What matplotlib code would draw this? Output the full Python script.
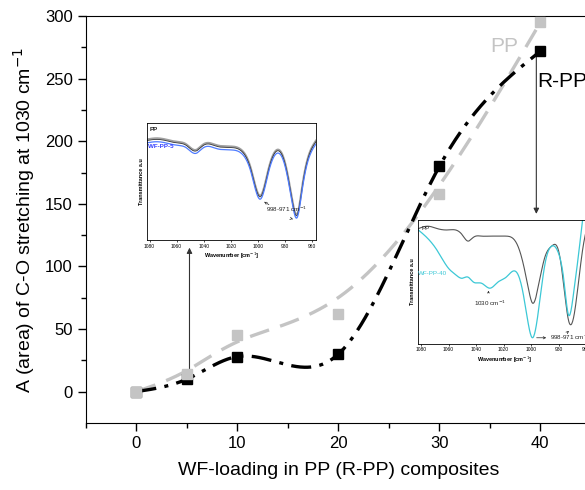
import numpy as np
import matplotlib
matplotlib.use("Agg")
import matplotlib.pyplot as plt

plt.rcParams['font.family'] = ['Liberation Sans', 'DejaVu Sans']

# main chart data
loading = [0, 5, 10, 20, 30, 40]
area_pp = [0, 14, 45, 62, 158, 295]
area_rpp = [0, 10, 28, 30, 180, 272]

# inset 1: FTIR of PP and WF-PP-5 (normalised transmittance)
wn1 = [1082, 1075, 1068, 1060, 1053, 1046, 1040, 1030, 1020, 1012, 1005,
       998, 992, 987, 980, 975, 971, 967, 963, 957]
t1_pp = [0.85, 0.86, 0.85, 0.83, 0.81, 0.76, 0.81, 0.80, 0.79, 0.76, 0.60,
         0.37, 0.60, 0.75, 0.66, 0.37, 0.21, 0.46, 0.69, 0.84]
t1_wf = [0.83, 0.84, 0.83, 0.81, 0.79, 0.74, 0.79, 0.78, 0.77, 0.74, 0.58,
         0.35, 0.58, 0.73, 0.64, 0.35, 0.19, 0.44, 0.67, 0.82]

# inset 2: FTIR of PP and WF-PP-40
wn2 = [1082, 1075, 1068, 1060, 1055, 1050, 1046, 1042, 1036, 1030, 1024,
       1018, 1010, 1006, 1002, 999, 995, 990, 985, 980, 976, 973, 969,
       965, 962, 958]
t2_pp = [0.93, 0.95, 0.93, 0.92, 0.92, 0.88, 0.83, 0.86, 0.87, 0.87, 0.87,
         0.87, 0.80, 0.66, 0.45, 0.33, 0.45, 0.70, 0.79, 0.75, 0.45, 0.20,
         0.22, 0.55, 0.80, 0.99]
t2_wf = [0.92, 0.85, 0.75, 0.61, 0.56, 0.53, 0.54, 0.50, 0.49, 0.45, 0.50,
         0.54, 0.57, 0.42, 0.16, 0.05, 0.24, 0.64, 0.79, 0.73, 0.50, 0.24,
         0.42, 0.77, 1.05, 1.3]


def spline(x, y, n=400):
    """Natural cubic spline through the points (for the smooth lines)."""
    x = np.asarray(x, float)
    y = np.asarray(y, float)
    if x[0] > x[-1]:
        x, y = x[::-1], y[::-1]
    h = np.diff(x)
    m = len(x)
    A = np.zeros((m, m))
    b = np.zeros(m)
    A[0, 0] = A[-1, -1] = 1
    for i in range(1, m - 1):
        A[i, i - 1] = h[i - 1]
        A[i, i] = 2 * (h[i - 1] + h[i])
        A[i, i + 1] = h[i]
        b[i] = 3 * ((y[i + 1] - y[i]) / h[i] - (y[i] - y[i - 1]) / h[i - 1])
    c = np.linalg.solve(A, b)
    bc = (y[1:] - y[:-1]) / h - h * (2 * c[:-1] + c[1:]) / 3
    d = (c[1:] - c[:-1]) / (3 * h)
    xs = np.linspace(x[0], x[-1], n)
    idx = np.clip(np.searchsorted(x, xs) - 1, 0, m - 2)
    dx = xs - x[idx]
    ys = y[idx] + bc[idx] * dx + c[idx] * dx ** 2 + d[idx] * dx ** 3
    return xs, ys


def bspline(x, y, n=60):
    """Cubic B-spline using the points as control points (clamped ends)."""
    P = np.column_stack([x, y]).astype(float)
    P = np.vstack([P[0], P[0], P, P[-1], P[-1]])
    t = np.linspace(0, 1, n)[:, None]
    b0 = (1 - t) ** 3 / 6
    b1 = (3 * t ** 3 - 6 * t ** 2 + 4) / 6
    b2 = (-3 * t ** 3 + 3 * t ** 2 + 3 * t + 1) / 6
    b3 = t ** 3 / 6
    segs = [b0 * P[i] + b1 * P[i + 1] + b2 * P[i + 2] + b3 * P[i + 3]
            for i in range(len(P) - 3)]
    pts = np.vstack(segs)
    return pts[:, 0], pts[:, 1]


fig = plt.figure(figsize=(5.85, 4.9), dpi=100)
ax = fig.add_axes([0.147, 0.137, 0.863, 0.830])

gray = '#c4c4c4'
xs, ys = bspline(loading, area_pp)
ax.plot(xs, ys, color=gray, lw=2.4, dashes=(6, 3.5), zorder=2)
xs, ys = spline(loading, area_rpp)
ax.plot(xs, ys, color='black', lw=2.4, dashes=(6, 2.5, 1.2, 2.5), zorder=3)
ax.plot(loading, area_rpp, 's', color='black', ms=6.5, zorder=4)
ax.plot(loading, area_pp, 's', color=gray, ms=6.5, zorder=5)

ax.set_xlim(-5, 45)
ax.set_ylim(-25, 300)
ax.set_xticks([0, 10, 20, 30, 40])
ax.set_xticks([-5, 5, 15, 25, 35, 45], minor=True)
ax.set_yticks([0, 50, 100, 150, 200, 250, 300])
ax.set_yticks([25, 75, 125, 175, 225, 275], minor=True)
ax.tick_params(which='major', direction='out', length=6, width=1, labelsize=12)
ax.tick_params(which='minor', direction='out', length=3.5, width=1)
ax.set_xlabel('WF-loading in PP (R-PP) composites', fontsize=14, labelpad=8)
ax.set_ylabel('A (area) of C-O stretching at 1030 cm$^{-1}$', fontsize=14,
              labelpad=6)

ax.text(36.4, 276, 'PP', color=gray, fontsize=15, ha='center', va='center')
ax.text(39.7, 248, 'R-PP', color='black', fontsize=15, ha='left', va='center')

ax.annotate('', xy=(5.25, 115), xytext=(5.25, 8),
            arrowprops=dict(arrowstyle='-|>', color='#333333', lw=0.8,
                            mutation_scale=8, shrinkA=0, shrinkB=0))
ax.annotate('', xy=(39.6, 142), xytext=(39.6, 268),
            arrowprops=dict(arrowstyle='-|>', color='#333333', lw=0.8,
                            mutation_scale=8, shrinkA=0, shrinkB=0))


def style_inset(a):
    a.set_xlim(1082, 957)
    a.set_ylim(0, 1)
    a.set_xticks([1080, 1060, 1040, 1020, 1000, 980, 960])
    a.set_yticks([])
    a.tick_params(direction='out', length=1.5, width=0.5, labelsize=3.5, pad=1)
    for s in a.spines.values():
        s.set_linewidth(0.6)
    a.set_xlabel('Wavenumber [cm$^{-1}$]', fontsize=4, fontweight='bold',
                 labelpad=1.5)
    a.set_ylabel('Transmittance a.u', fontsize=4, fontweight='bold',
                 labelpad=2)


# inset 1
ia = fig.add_axes([0.251, 0.510, 0.289, 0.239])
xs, ys = spline(wn1, t1_pp)
ia.plot(xs, ys + 0.01, color='#a0a0a0', lw=1.4)
ia.plot(xs, ys, color='#333333', lw=0.6)
xs, ys = spline(wn1, t1_wf)
ia.plot(xs, ys, color='#4f7cff', lw=0.9)
style_inset(ia)
ia.text(1080, 0.93, 'PP', fontsize=4.5, fontweight='bold', color='#222222')
ia.text(1081, 0.79, 'WF-PP-5', fontsize=4.5, fontweight='bold', color='#3340ff')
ia.text(979, 0.26, '998-971 cm$^{-1}$', fontsize=4.5, ha='center', va='center',
        color='#222222')
ia.annotate('', xy=(997, 0.34), xytext=(990, 0.29),
            arrowprops=dict(arrowstyle='->', lw=0.5, ls='--', color='#222222',
                            mutation_scale=4))
ia.annotate('', xy=(972, 0.17), xytext=(977, 0.19),
            arrowprops=dict(arrowstyle='->', lw=0.5, ls='--', color='#222222',
                            mutation_scale=4))

# inset 2
ib = fig.add_axes([0.715, 0.298, 0.294, 0.253])
xs, ys = spline(wn2, t2_pp)
ib.plot(xs, ys, color='#555555', lw=0.8)
xs, ys = spline(wn2, t2_wf)
ib.plot(xs, ys, color='#3cc8d6', lw=0.9)
style_inset(ib)
ib.text(1080, 0.92, 'PP', fontsize=4.5, color='#222222')
ib.text(1082, 0.56, 'WF-PP-40', fontsize=4.5, color='#3cc8d6')
ib.text(1030, 0.33, '1030 cm$^{-1}$', fontsize=4.5, ha='center', va='center',
        color='#222222')
ib.annotate('', xy=(1031, 0.43), xytext=(1031, 0.39),
            arrowprops=dict(arrowstyle='->', lw=0.5, color='#222222',
                            mutation_scale=3))
ib.text(986.5, 0.05, '998-971 cm$^{-1}$', fontsize=4.5, ha='left', va='center',
        color='#222222')
ib.annotate('', xy=(987, 0.05), xytext=(998, 0.05),
            arrowprops=dict(arrowstyle='->', lw=0.5, color='#222222',
                            mutation_scale=4))
ib.annotate('', xy=(971, 0.12), xytext=(975, 0.08),
            arrowprops=dict(arrowstyle='->', lw=0.5, color='#222222',
                            mutation_scale=4))

fig.savefig('out.png', dpi=100)
